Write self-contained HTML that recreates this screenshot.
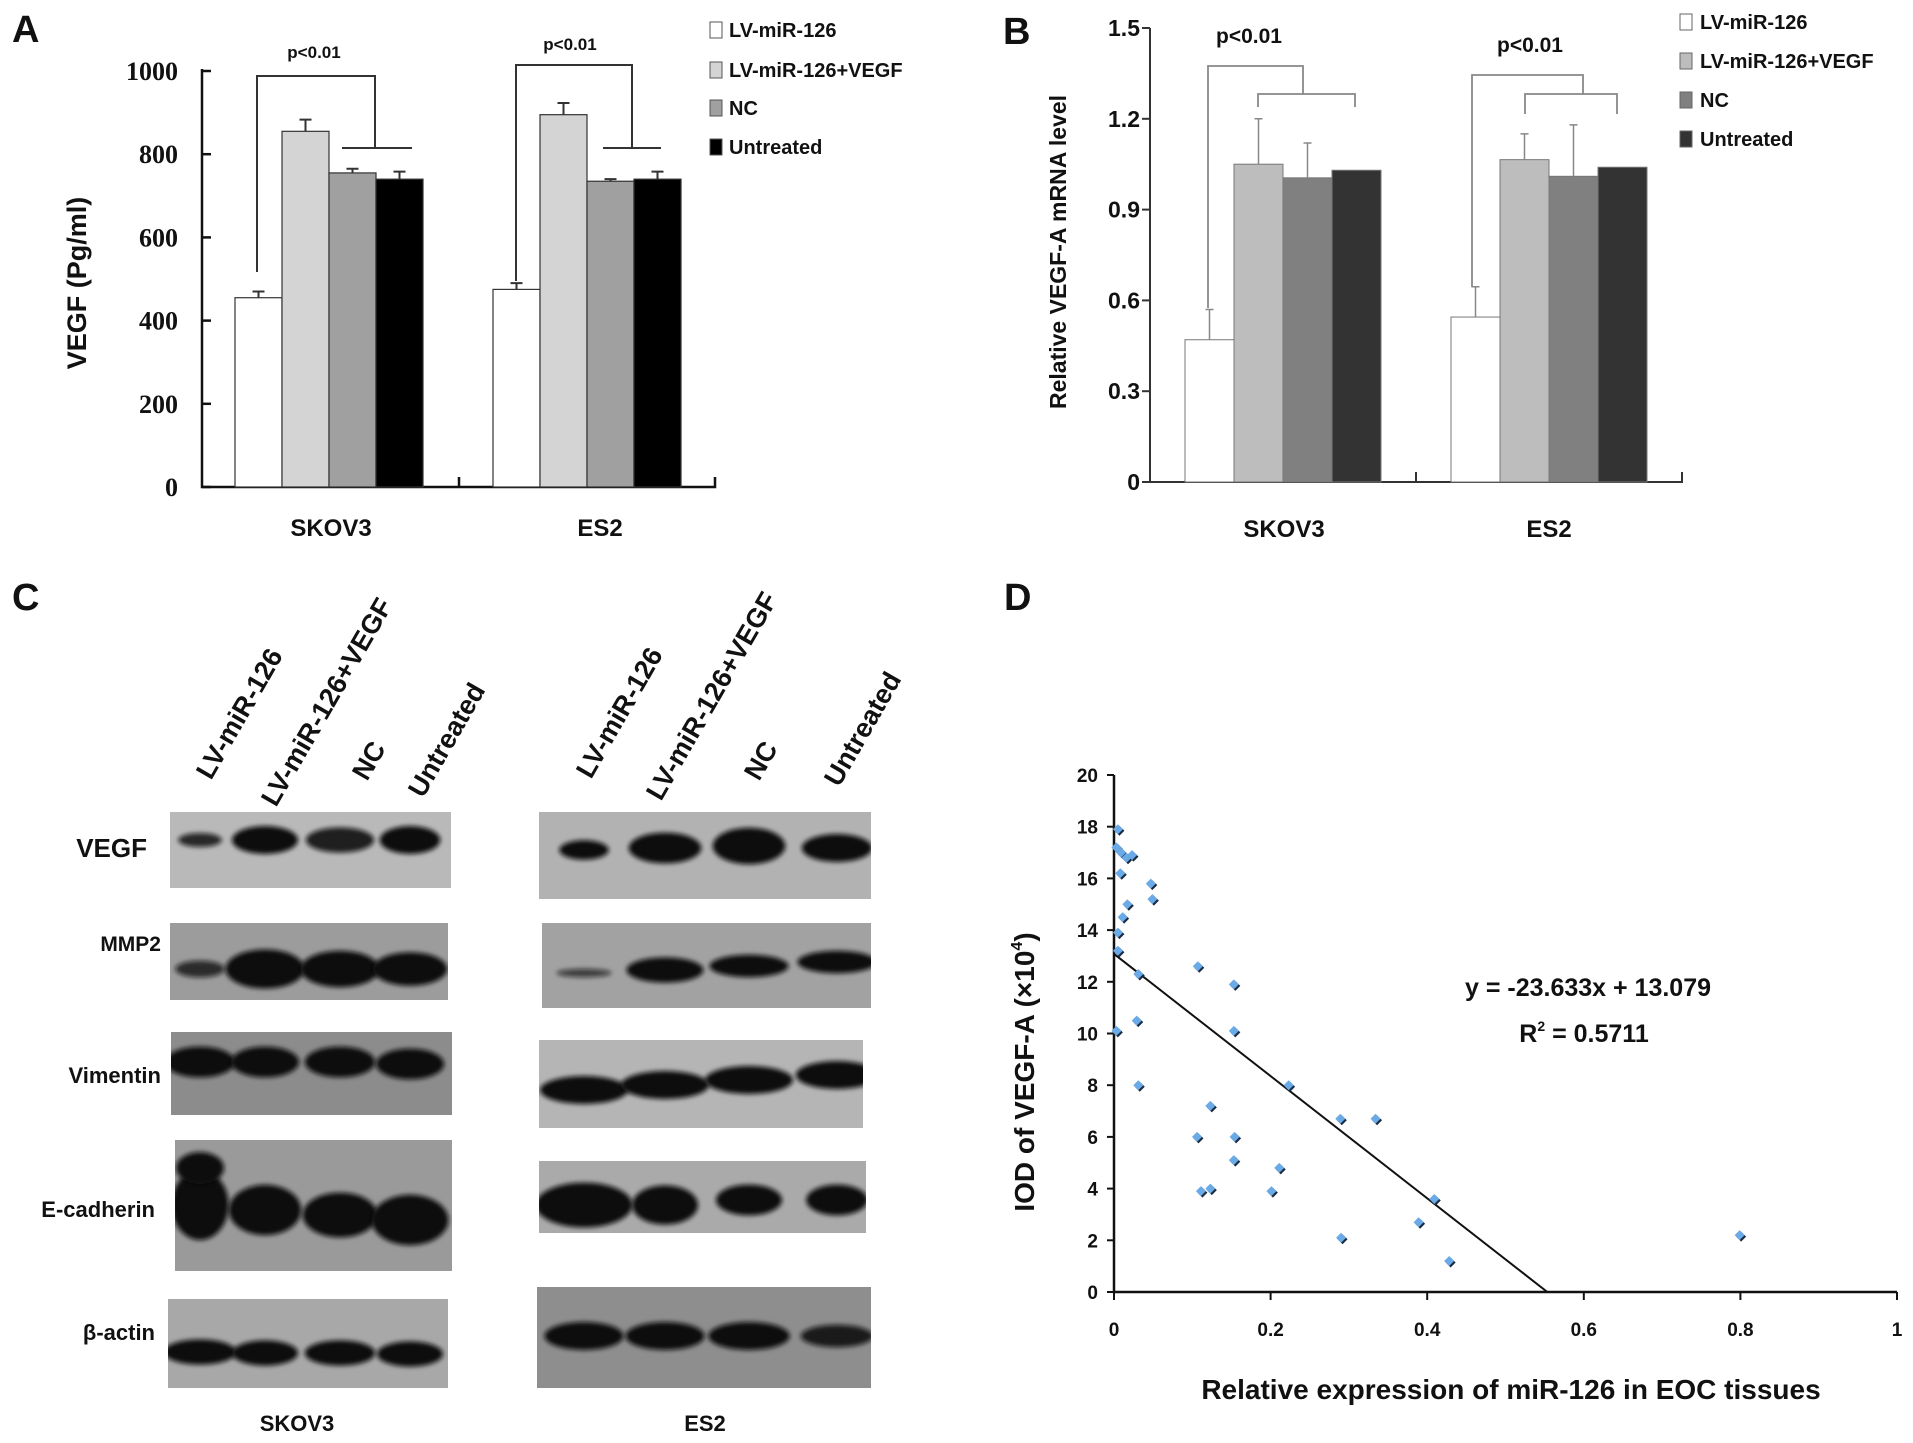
<!DOCTYPE html>
<html><head><meta charset="utf-8"><style>
html,body{margin:0;padding:0;background:#fff}
svg{display:block}
text{font-family:"Liberation Sans",Arial,sans-serif;font-weight:bold;fill:#111}
.serif{font-family:"Liberation Serif",serif}
</style></head><body>
<svg id="fig" width="1913" height="1443" viewBox="0 0 1913 1443" xmlns="http://www.w3.org/2000/svg">
<defs>
<filter id="blur" x="-30%" y="-60%" width="160%" height="220%"><feGaussianBlur stdDeviation="2.5"/></filter>
</defs>
<text x="12" y="42" font-size="38">A</text>
<text x="1003" y="44" font-size="38">B</text>
<text x="12" y="610" font-size="38">C</text>
<text x="1004" y="610" font-size="38">D</text>

<g id="panelA"></g>
<g id="panelB"></g>
<g id="panelC"></g>
<g id="panelD"></g>
</svg>
<script>
// ---------- Panel A data ----------
const aGroups = ["SKOV3","ES2"];
const aSeries = ["LV-miR-126","LV-miR-126+VEGF","NC","Untreated"];
const aSkov3 = [455,855,755,740];
const aEs2 = [475,895,735,740];
const aErrSkov3 = [15,28,10,18];
const aErrEs2 = [15,28,5,18];
const aTicks = [0,200,400,600,800,1000];
// ---------- Panel B data ----------
const bSkov3 = [0.47,1.05,1.005,1.03];
const bEs2 = [0.545,1.065,1.01,1.04];
const bErrSkov3 = [0.10,0.15,0.115,0];
const bErrEs2 = [0.10,0.085,0.17,0];
const bTicks = [0,0.3,0.6,0.9,1.2,1.5];
// ---------- Panel D data ----------
const dX = [0.005,0.003,0.009,0.016,0.023,0.008,0.047,0.049,0.017,0.011,0.005,0.005,0.031,0.107,0.153,0.029,0.003,0.153,0.031,0.223,0.123,0.289,0.334,0.106,0.154,0.153,0.211,0.111,0.123,0.201,0.409,0.389,0.290,0.428,0.799];
const dY = [17.9,17.2,17.0,16.8,16.9,16.2,15.8,15.2,15.0,14.5,13.9,13.2,12.3,12.6,11.9,10.5,10.1,10.1,8.0,8.0,7.2,6.7,6.7,6.0,6.0,5.1,4.8,3.9,4.0,3.9,3.6,2.7,2.1,1.2,2.2];
const dXTicks = [0,0.2,0.4,0.6,0.8,1];
const dYTicks = [0,2,4,6,8,10,12,14,16,18,20];
const dSlope = [-23.633];
const dIntercept = [13.079];

const NS="http://www.w3.org/2000/svg";
function mk(tag, parent, attrs){const e=document.createElementNS(NS,tag);for(const k in attrs)e.setAttribute(k,attrs[k]);parent.appendChild(e);return e;}

// ================= Panel A =================
(function(){
const g=document.getElementById('panelA');
const x0=202, xEnd=715, y0=487, yTop=71;
const yA=v=>y0-v*(y0-yTop)/1000;
const fills=["#ffffff","#d4d4d4","#a0a0a0","#000000"];
const groupStart=[235,493], bw=47;
let ax=mk('path',g,{d:`M${x0} ${yTop-2} V${y0} H${xEnd} V${y0-10} M459 ${y0} V${y0-10}`,stroke:"#111","stroke-width":2.5,fill:"none"});


aTicks.forEach(t=>{
 const l=mk('line',g,{x1:x0,x2:x0+9,y1:yA(t),y2:yA(t),stroke:"#111","stroke-width":2.5});
 
 
 const tx=mk('text',g,{x:178,y:yA(t)+9,"font-size":26,"text-anchor":"end",class:"serif"});
 tx.textContent=t;
 
 
});
[aSkov3,aEs2].forEach((vals,gi)=>{
 const errs=gi===0?aErrSkov3:aErrEs2;
 vals.forEach((v,i)=>{
  const bx=groupStart[gi]+i*bw, cx=bx+bw/2;
  const r=mk('rect',g,{x:bx,y:yA(v),width:bw,height:y0-yA(v),fill:fills[i],stroke:"#333","stroke-width":1.2});
  
  
  const e=mk('path',g,{d:`M${cx} ${yA(v)} V${yA(v+errs[i])} M${cx-6} ${yA(v+errs[i])} H${cx+6}`,stroke:"#333","stroke-width":2,fill:"none"});
  
  
 });
});
const br=mk('path',g,{d:"M257 272 V76 H375 V148 M342 148 H412 M516 281 V65 H632 V148 M603 148 H661",stroke:"#333","stroke-width":2,fill:"none"});


[[314,58],[570,50]].forEach(p=>{const t=mk('text',g,{x:p[0],y:p[1],"font-size":17,"text-anchor":"middle"});t.textContent="p<0.01";
 
 });
[["SKOV3",331],["ES2",600]].forEach(p=>{const t=mk('text',g,{x:p[1],y:536,"font-size":24,"text-anchor":"middle"});t.textContent=p[0];
 
 });
const yt=mk('text',g,{x:0,y:0,"font-size":27,"text-anchor":"middle",transform:"translate(86,283) rotate(-90)"});yt.textContent="VEGF (Pg/ml)";


const ly=[30,70,108,147];
aSeries.forEach((s,i)=>{
 const r=mk('rect',g,{x:710,y:ly[i]-8,width:12,height:16,fill:fills[i],stroke:"#555","stroke-width":1});
 
 
 const t=mk('text',g,{x:729,y:ly[i]+7,"font-size":20});t.textContent=s;
 
 
});
})();

// ================= Panel B =================
(function(){
const g=document.getElementById('panelB');
const x0=1150,xEnd=1682,y0=482,yTop=28;
const yB=v=>y0-v*(y0-yTop)/1.5;
const fills=["#ffffff","#bdbdbd","#808080","#333333"];
const groupStart=[1185,1451],bw=49;
const ax=mk('path',g,{d:`M${x0} ${yTop} V${y0} H${xEnd} V${y0-10} M1416 ${y0} V${y0-10}`,stroke:"#333","stroke-width":2,fill:"none"});


bTicks.forEach(t=>{
 const l=mk('line',g,{x1:x0-8,x2:x0,y1:yB(t),y2:yB(t),stroke:"#333","stroke-width":2});
 
 
 const tx=mk('text',g,{x:1140,y:yB(t)+8,"font-size":23,"text-anchor":"end"});tx.textContent=t===0?"0":t.toFixed(1);
 
 
});
[bSkov3,bEs2].forEach((vals,gi)=>{
 const errs=gi===0?bErrSkov3:bErrEs2;
 vals.forEach((v,i)=>{
  const bx=groupStart[gi]+i*bw,cx=bx+bw/2;
  const r=mk('rect',g,{x:bx,y:yB(v),width:bw,height:y0-yB(v),fill:fills[i],stroke:"#777","stroke-width":1});
  
  
  if(errs[i]>0){
   const e=mk('path',g,{d:`M${cx} ${yB(v)} V${yB(v+errs[i])} M${cx-4} ${yB(v+errs[i])} H${cx+4}`,stroke:"#888","stroke-width":1.5,fill:"none"});
   
   
  }
 });
});
const br=mk('path',g,{d:"M1208 308 V66 H1303 V94 M1258 107 V94 H1355 V107 M1472 287 V75 H1583 V94 M1525 114 V94 H1617 V114",stroke:"#888","stroke-width":1.8,fill:"none"});


[[1249,43],[1530,52]].forEach(p=>{const t=mk('text',g,{x:p[0],y:p[1],"font-size":21,"text-anchor":"middle"});t.textContent="p<0.01";
 
 });
[["SKOV3",1284],["ES2",1549]].forEach(p=>{const t=mk('text',g,{x:p[1],y:537,"font-size":24,"text-anchor":"middle"});t.textContent=p[0];
 
 });
const yt=mk('text',g,{x:0,y:0,"font-size":23,"text-anchor":"middle",transform:"translate(1066,252) rotate(-90)"});yt.textContent="Relative VEGF-A mRNA level";


const ly=[22,61,100,139];
aSeries.forEach((s,i)=>{
 const r=mk('rect',g,{x:1680,y:ly[i]-8,width:12,height:16,fill:fills[i],stroke:"#666","stroke-width":1});
 
 
 const t=mk('text',g,{x:1700,y:ly[i]+7,"font-size":20});t.textContent=s;
 
 
});
})();

// ================= Panel C (western blots) =================
(function(){
const g=document.getElementById('panelC');
const sL=[200,265,340,410], eL=[584,665,749,837];
const boxes=[
 {n:"skov3-vegf",x:170,y:812,w:281,h:76,bg:"#b9b9b9",lanes:sL,bands:[[840,40,10,.85],[840,60,20,1],[840,62,18,.9],[840,55,20,1]]},
 {n:"skov3-mmp2",x:170,y:923,w:278,h:77,bg:"#9c9c9c",lanes:sL,bands:[[969,45,12,.8],[969,72,28,1],[969,72,26,1],[969,68,24,1]]},
 {n:"skov3-vimentin",x:171,y:1032,w:281,h:83,bg:"#8c8c8c",lanes:sL,bands:[[1062,64,22,1],[1062,62,22,1],[1062,64,22,1],[1064,62,22,1]]},
 {n:"skov3-ecadherin",x:175,y:1140,w:277,h:131,bg:"#9a9a9a",lanes:sL,bands:[[1205,52,50,1],[1210,66,36,1],[1215,68,32,1],[1220,70,36,1]]},
 {n:"skov3-bactin",x:168,y:1299,w:280,h:89,bg:"#a8a8a8",lanes:sL,bands:[[1352,66,18,1],[1353,60,18,1],[1353,64,18,1],[1354,60,18,1]]},
 {n:"es2-vegf",x:539,y:812,w:332,h:87,bg:"#b2b2b2",lanes:eL,bands:[[850,45,14,1],[848,66,22,1],[846,66,26,1],[848,64,20,1]]},
 {n:"es2-mmp2",x:542,y:923,w:329,h:85,bg:"#a2a2a2",lanes:eL,bands:[[973,50,6,.7],[970,70,18,1],[966,72,16,1],[962,72,16,1]]},
 {n:"es2-vimentin",x:539,y:1040,w:324,h:88,bg:"#b5b5b5",lanes:eL,bands:[[1090,80,20,1],[1085,80,20,1],[1080,80,20,1],[1075,75,20,1]]},
 {n:"es2-ecadherin",x:539,y:1161,w:327,h:72,bg:"#aaaaaa",lanes:eL,bands:[[1205,88,32,1],[1205,60,28,1],[1200,60,22,1],[1200,56,22,1]]},
 {n:"es2-bactin",x:537,y:1287,w:334,h:101,bg:"#8e8e8e",lanes:eL,bands:[[1336,72,20,1],[1336,72,20,1],[1336,74,20,1],[1336,66,16,.9]]}
];
boxes.forEach(b=>{
 const r=mk('rect',g,{x:b.x,y:b.y,width:b.w,height:b.h,fill:b.bg});
 
 
 const cp=mk('clipPath',g,{id:'cp-'+b.n});mk('rect',cp,{x:b.x,y:b.y,width:b.w,height:b.h});
 const gg=mk('g',g,{"clip-path":`url(#cp-${b.n})`});
 b.bands.forEach((bd,i)=>{
  const e=mk('ellipse',gg,{cx:b.lanes[i],cy:bd[0],rx:bd[1]*0.55,ry:bd[2]*0.7,fill:"#101010","fill-opacity":bd[3],filter:"url(#blur)"});
  
  
 });
 if(b.n==="skov3-ecadherin"){
  const e=mk('ellipse',gg,{cx:200,cy:1168,rx:24,ry:16,fill:"#101010",filter:"url(#blur)"});
  
  
 }
});
const rows=[["VEGF",147,857,26],["MMP2",161,951,21],["Vimentin",161,1083,22],["E-cadherin",155,1217,22],["β-actin",155,1340,22]];
rows.forEach(rw=>{const t=mk('text',g,{x:rw[1],y:rw[2],"font-size":rw[3],"text-anchor":"end"});t.textContent=rw[0];
 
 });
[["SKOV3",297,1431],["ES2",705,1431]].forEach(p=>{const t=mk('text',g,{x:p[1],y:p[2],"font-size":22,"text-anchor":"middle"});t.textContent=p[0];
 
 });
const lanes=[["LV-miR-126",211,781],["LV-miR-126+VEGF",276,808],["NC",367,782],["Untreated",423,799],["LV-miR-126",591,780],["LV-miR-126+VEGF",661,802],["NC",759,782],["Untreated",839,788]];
lanes.forEach(l=>{const t=mk('text',g,{x:0,y:0,"font-size":27,transform:`translate(${l[1]},${l[2]}) rotate(-60)`});t.textContent=l[0];
 
 });
})();

// ================= Panel D =================
(function(){
const g=document.getElementById('panelD');
const x0=1114,x1=1897,y0=1292,yTop=775;
const xD=v=>x0+v*(x1-x0);
const yD=v=>y0-v*(y0-yTop)/20;
const ax=mk('path',g,{d:`M${x0} ${yTop} V${y0} H${x1}`,stroke:"#111","stroke-width":2.5,fill:"none"});


dYTicks.forEach(t=>{
 const l=mk('line',g,{x1:x0-7,x2:x0,y1:yD(t),y2:yD(t),stroke:"#111","stroke-width":2});
 
 
 const tx=mk('text',g,{x:1098,y:yD(t)+7,"font-size":19,"text-anchor":"end"});tx.textContent=t;
 
 
});
dXTicks.forEach(t=>{
 const l=mk('line',g,{x1:xD(t),x2:xD(t),y1:y0,y2:y0+8,stroke:"#111","stroke-width":2});
 
 
 const tx=mk('text',g,{x:xD(t),y:1336,"font-size":19,"text-anchor":"middle"});tx.textContent=t;
 
 
});
const xr=-dIntercept[0]/dSlope[0];
const ln=mk('line',g,{x1:xD(0),y1:yD(dIntercept[0]),x2:xD(xr),y2:yD(0),stroke:"#111","stroke-width":2});


dX.forEach((x,i)=>{
 const cx=xD(x),cy=yD(dY[i]),s=5;
 const sh=mk('path',g,{d:`M${cx+1.5} ${cy-s+1.5} L${cx+s+1.5} ${cy+1.5} L${cx+1.5} ${cy+s+1.5} L${cx-s+1.5} ${cy+1.5}Z`,fill:"#1a2a40"});
 
 
 const p=mk('path',g,{d:`M${cx} ${cy-s} L${cx+s} ${cy} L${cx} ${cy+s} L${cx-s} ${cy}Z`,fill:"#6aaae6"});
 
 
});
const eq=mk('text',g,{x:1588,y:996,"font-size":25,"text-anchor":"middle"});eq.textContent="y = -23.633x + 13.079";


const r2=mk('text',g,{x:1584,y:1042,"font-size":25,"text-anchor":"middle"});
r2.innerHTML='R<tspan font-size="14" dy="-11">2</tspan><tspan dy="11"> = 0.5711</tspan>';


const xt=mk('text',g,{x:1511,y:1399,"font-size":28,"text-anchor":"middle"});xt.textContent="Relative expression of  miR-126 in EOC tissues";


const yt=mk('text',g,{x:0,y:0,"font-size":28,"text-anchor":"middle",transform:"translate(1034,1072) rotate(-90)"});
yt.innerHTML='IOD of VEGF-A (×10<tspan font-size="16" dy="-12">4</tspan><tspan dy="12">)</tspan>';


})();
</script>
</body></html>
